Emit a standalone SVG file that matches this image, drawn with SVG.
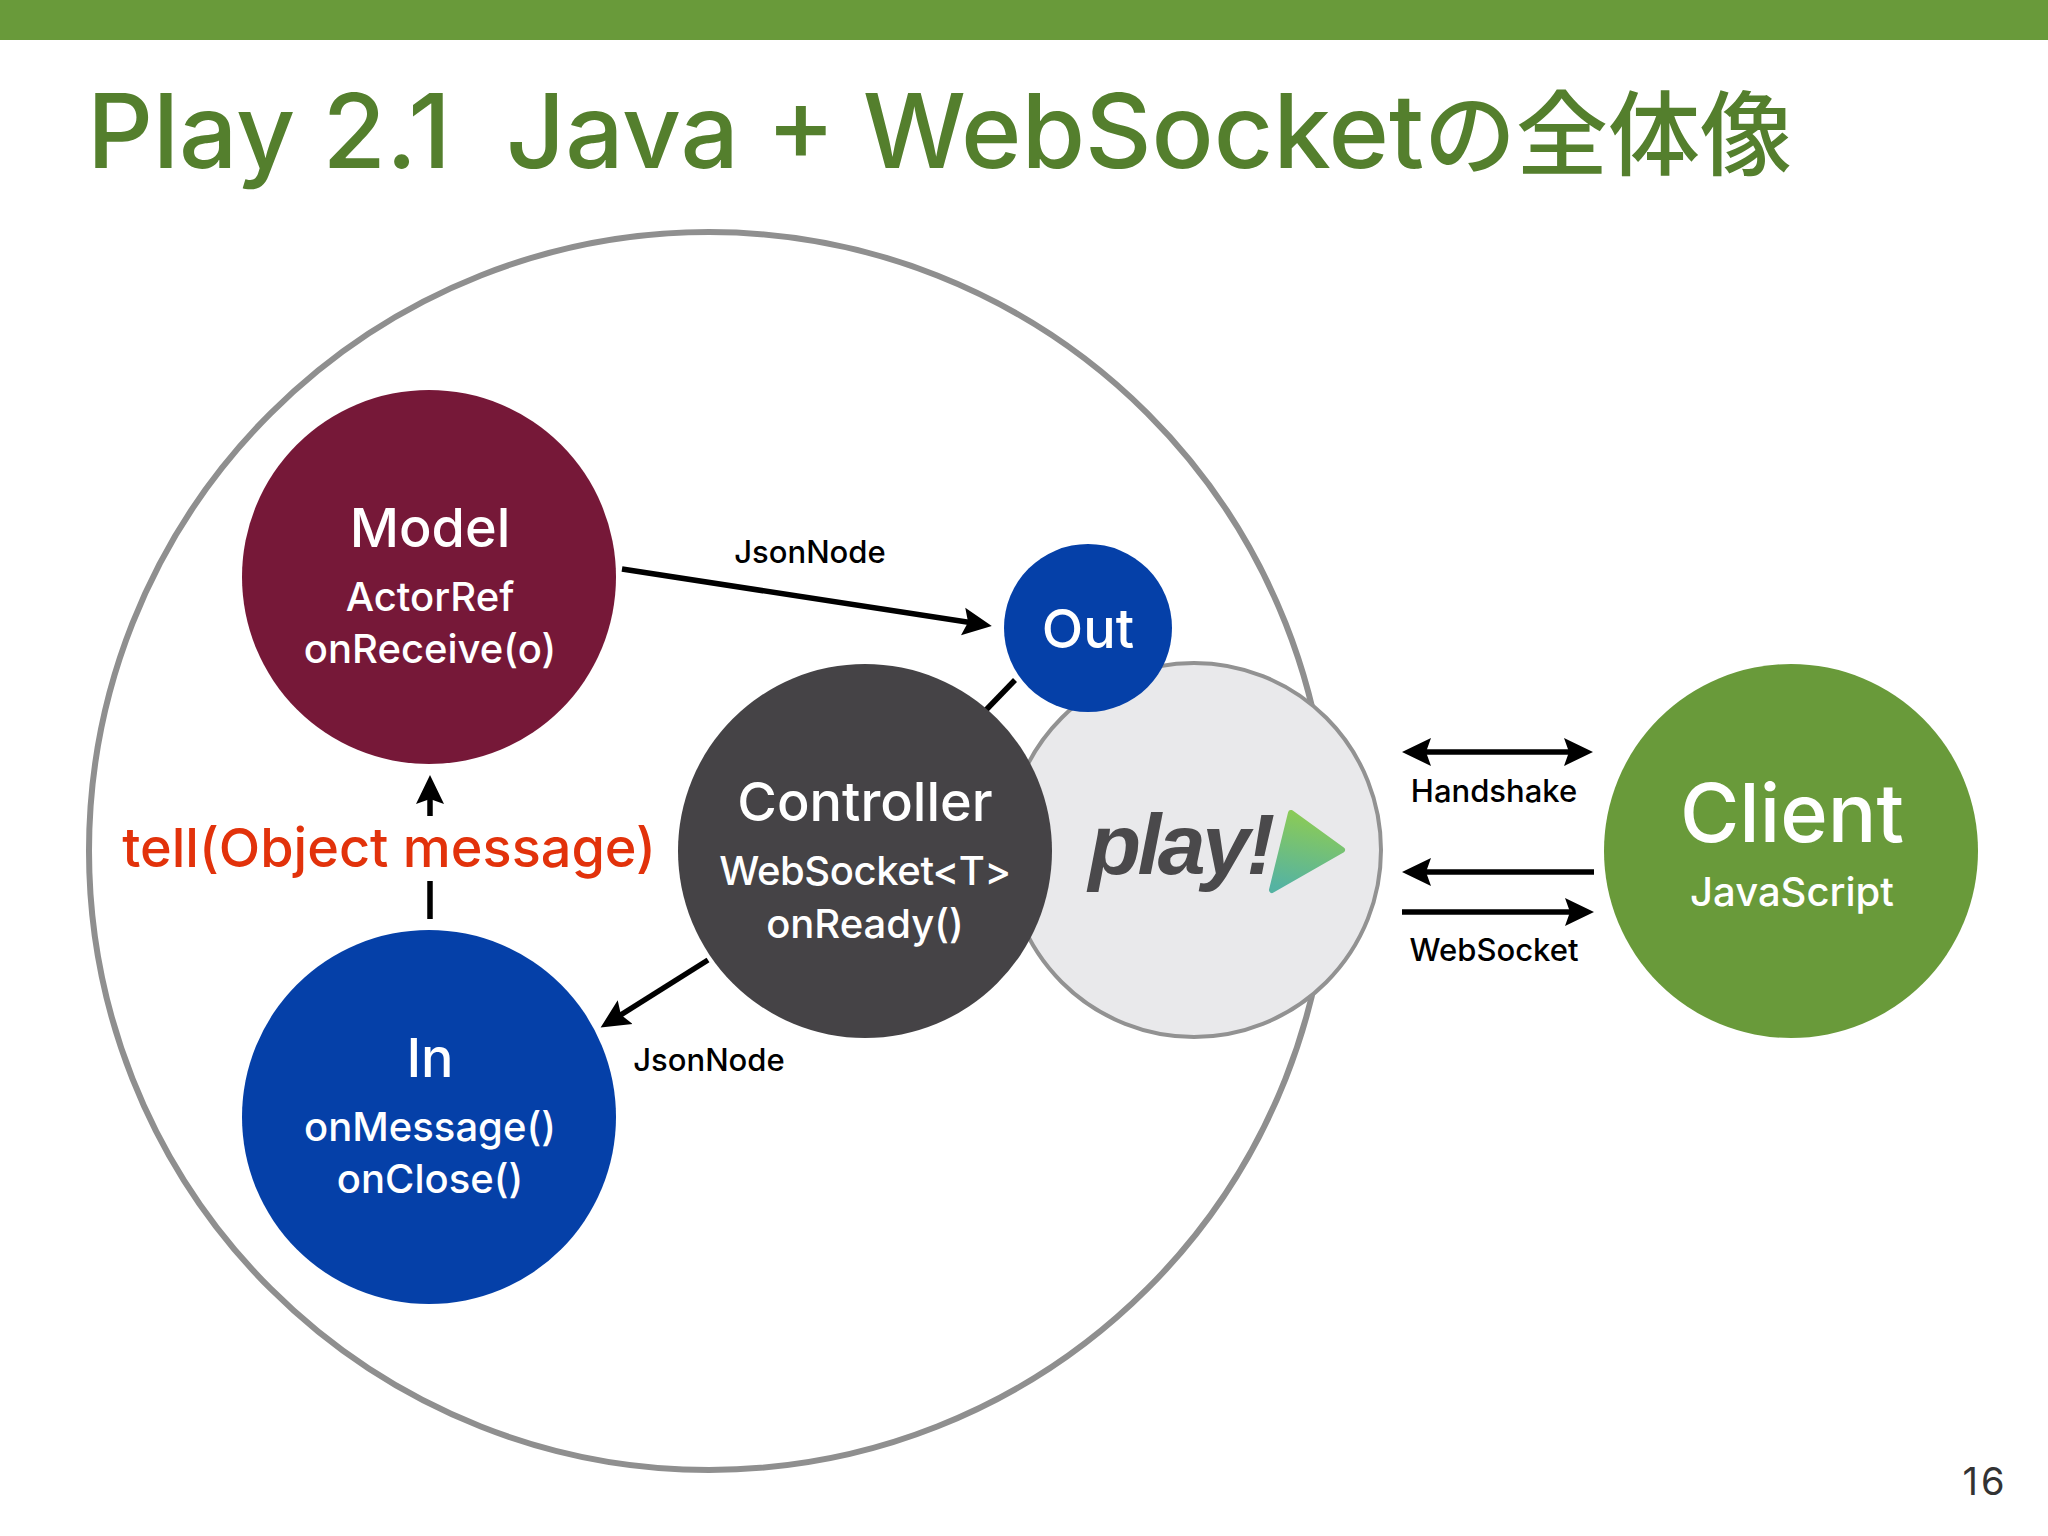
<svg xmlns="http://www.w3.org/2000/svg" width="2048" height="1536" viewBox="0 0 2048 1536">
<style>
text{font-family:Inter,"Noto Sans CJK JP",sans-serif;text-anchor:middle;font-weight:500}
.w{fill:#fff}
.h{font-size:54px}
.s{font-size:40px}
.k{fill:#000;font-size:31px}
.a{fill:none;stroke:#000;stroke-width:5.5}
</style>
<defs>
<marker id="ah" markerUnits="userSpaceOnUse" markerWidth="30" markerHeight="30" refX="12" refY="15" orient="auto-start-reverse"><path d="M29,15 L0,1 L5,15 L0,29Z" fill="#000"/></marker>
<linearGradient id="tri" x1="0.5" y1="0" x2="0.3" y2="1"><stop offset="0" stop-color="#8ccb55"/><stop offset="1" stop-color="#55b3a2"/></linearGradient>
</defs>
<rect width="2048" height="1536" fill="#fff"/>
<rect id="topbar" width="2048" height="40" fill="#699a3a"/>
<text id="title" x="87" y="168" xml:space="preserve" style="text-anchor:start;font-size:103px;fill:#547f2d">Play 2.1&#160;&#160;Java + WebSocket<tspan style="font-size:92px">の全体像</tspan></text>
<g id="boundary"><ellipse cx="709" cy="851" rx="620" ry="619" fill="#fff" stroke="#8f8f8f" stroke-width="6"/></g>
<g id="connectors">
<line class="a" x1="622" y1="569" x2="975" y2="623.3" marker-end="url(#ah)"/>
<line class="a" x1="708" y1="960" x2="615" y2="1018.5" marker-end="url(#ah)"/>
<line class="a" x1="430" y1="816" x2="430" y2="792" marker-end="url(#ah)"/>
<line class="a" x1="430" y1="881" x2="430" y2="919"/>
<line class="a" x1="1015" y1="680" x2="985" y2="711"/>
<line class="a" x1="1419" y1="752" x2="1576" y2="752" marker-start="url(#ah)" marker-end="url(#ah)"/>
<line class="a" x1="1594" y1="872" x2="1419" y2="872" marker-end="url(#ah)"/>
<line class="a" x1="1402" y1="912" x2="1577" y2="912" marker-end="url(#ah)"/>
</g>
<g id="play"><circle cx="1194" cy="850" r="187" fill="#e9e9eb" stroke="#929292" stroke-width="4"/>
<text x="1180" y="874" style="font-family:'Liberation Sans',sans-serif;font-weight:700;font-style:italic;font-size:86px;letter-spacing:-3.5px;fill:#4a494b">play!</text>
<path d="M1291,813 L1342,850 L1272,890Z" fill="url(#tri)" stroke="url(#tri)" stroke-width="6" stroke-linejoin="round"/></g>
<g id="controller"><circle cx="865" cy="851" r="187" fill="#454346"/>
<text class="w h" x="865" y="821">Controller</text><text class="w s" x="865" y="885" style="letter-spacing:-0.4px">WebSocket&lt;T&gt;</text><text class="w s" x="865" y="938">onReady()</text></g>
<g id="out"><circle cx="1088" cy="628" r="84" fill="#0540a8"/><text class="w h" x="1088" y="648">Out</text></g>
<g id="model"><circle cx="429" cy="577" r="187" fill="#761838"/>
<text class="w h" x="430" y="547">Model</text><text class="w s" x="430" y="611">ActorRef</text><text class="w s" x="430" y="663">onReceive(o)</text></g>
<g id="in"><circle cx="429" cy="1117" r="187" fill="#0540a8"/>
<text class="w h" x="430" y="1077">In</text><text class="w s" x="430" y="1141">onMessage()</text><text class="w s" x="430" y="1193">onClose()</text></g>
<g id="client"><circle cx="1791" cy="851" r="187" fill="#699a3a"/>
<text class="w" x="1792" y="842" style="font-size:81px">Client</text><text class="w s" x="1792" y="906">JavaScript</text></g>
<text id="tell" x="389" y="867" style="font-size:54px;fill:#e2320b">tell(Object message)</text>
<text class="k" x="810" y="563">JsonNode</text>
<text class="k" x="709" y="1071">JsonNode</text>
<text class="k" x="1494" y="802">Handshake</text>
<text class="k" x="1494" y="961">WebSocket</text>
<text id="page" x="1985" y="1495" style="font-size:38px;font-weight:400;fill:#333;letter-spacing:3px">16</text>
</svg>
